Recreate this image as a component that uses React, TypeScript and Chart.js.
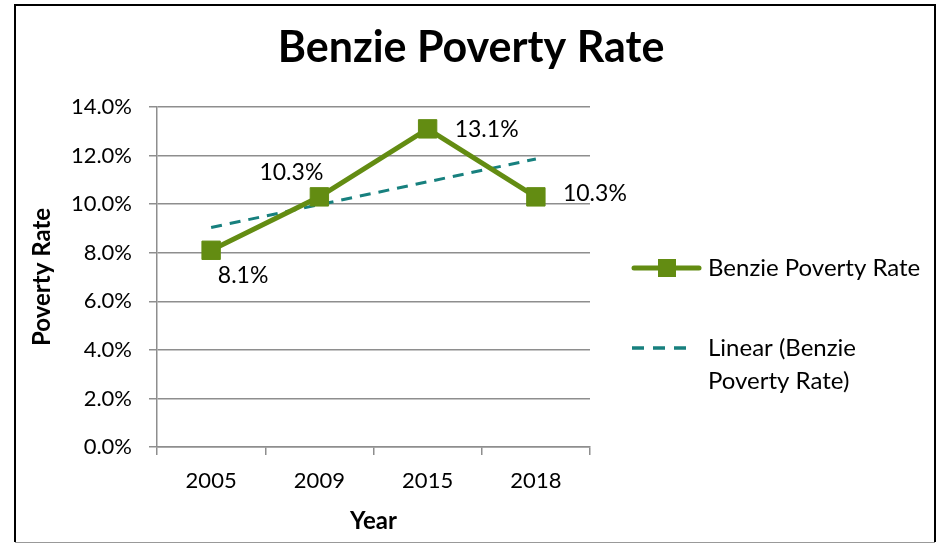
import React, { useEffect, useRef } from "react";
import { Chart, registerables } from "chart.js";

Chart.register(...registerables);

const categories = ["2005", "2009", "2015", "2018"];
const povertyRate = [8.1, 10.3, 13.1, 10.3];
const trendValues = [9.04, 9.98, 10.92, 11.86];
const dataLabels = ["8.1%", "10.3%", "13.1%", "10.3%"];
const labelOffsets = [
  [32, 25],
  [-28, -24],
  [59, 1],
  [59, -3],
];
const yTicks = { min: 0, max: 14, step: 2 };

const FONT = "Lato, 'Open Sans', sans-serif";
const GREEN = "#638C12";
const TEAL = "#17807E";
const GRID = "#8E8E8E";

const decorPlugin = {
  id: "decor",
  beforeDraw(chart: any) {
    const ctx = chart.ctx;
    ctx.save();
    ctx.fillStyle = "#ffffff";
    ctx.fillRect(0, 0, chart.width, chart.height);
    ctx.restore();
  },
  afterDraw(chart: any) {
    const ctx = chart.ctx;
    const area = chart.chartArea;
    ctx.save();
    // outer border
    ctx.strokeStyle = "#000000";
    ctx.lineWidth = 2;
    ctx.beginPath();
    ctx.moveTo(15, 542);
    ctx.lineTo(15, 5);
    ctx.lineTo(935, 5);
    ctx.lineTo(935, 542);
    ctx.stroke();
    ctx.strokeStyle = "#999999";
    ctx.lineWidth = 1;
    ctx.beginPath();
    ctx.moveTo(15, 542.5);
    ctx.lineTo(935, 542.5);
    ctx.stroke();

    // title
    ctx.fillStyle = "#000000";
    ctx.textAlign = "center";
    ctx.textBaseline = "middle";
    ctx.font = `bold 43px ${FONT}`;
    ctx.fillText("Benzie Poverty Rate", 471, 48);

    // axis titles
    ctx.font = `bold 24px ${FONT}`;
    ctx.fillText("Year", (area.left + area.right) / 2, 521);
    ctx.save();
    ctx.translate(42, (area.top + area.bottom) / 2);
    ctx.rotate(-Math.PI / 2);
    ctx.fillText("Poverty Rate", 0, 0);
    ctx.restore();

    // data labels
    ctx.font = `23px ${FONT}`;
    const meta = chart.getDatasetMeta(0);
    meta.data.forEach((pt: any, i: number) => {
      const [dx, dy] = labelOffsets[i];
      ctx.fillText(dataLabels[i], pt.x + dx, pt.y + dy);
    });

    // legend
    ctx.textAlign = "left";
    ctx.font = `24px ${FONT}`;
    const y1 = 268;
    ctx.strokeStyle = GREEN;
    ctx.lineWidth = 5;
    ctx.lineCap = "round";
    ctx.beginPath();
    ctx.moveTo(634, y1);
    ctx.lineTo(699, y1);
    ctx.stroke();
    ctx.fillStyle = GREEN;
    ctx.fillRect(658, y1 - 9, 18, 18);
    ctx.fillStyle = "#000000";
    ctx.fillText("Benzie Poverty Rate", 708, y1);

    const y2 = 348;
    ctx.strokeStyle = TEAL;
    ctx.lineWidth = 3.5;
    ctx.lineCap = "butt";
    ctx.setLineDash([12, 9]);
    ctx.beginPath();
    ctx.moveTo(632, y2);
    ctx.lineTo(690, y2);
    ctx.stroke();
    ctx.setLineDash([]);
    ctx.fillText("Linear (Benzie", 708, y2);
    ctx.fillText("Poverty Rate)", 708, y2 + 33);
    ctx.restore();
  },
};

export default function App() {
  const ref = useRef<HTMLCanvasElement | null>(null);

  useEffect(() => {
    if (!ref.current) return;
    const chart = new Chart(ref.current, {
      type: "line",
      data: {
        labels: categories,
        datasets: [
          {
            label: "Benzie Poverty Rate",
            data: povertyRate,
            borderColor: GREEN,
            backgroundColor: GREEN,
            borderWidth: 5,
            pointStyle: "rect",
            pointRadius: 13,
            pointHoverRadius: 13,
            pointBorderWidth: 1,
            pointBackgroundColor: GREEN,
            pointBorderColor: GREEN,
            tension: 0,
            order: 1,
          },
          {
            label: "Linear (Benzie Poverty Rate)",
            data: trendValues,
            borderColor: TEAL,
            borderWidth: 3,
            borderDash: [11, 8],
            pointRadius: 0,
            fill: false,
            tension: 0,
            order: 2,
          },
        ],
      },
      options: {
        responsive: false,
        animation: false,
        devicePixelRatio: 1,
        layout: { padding: { left: 27, right: 350, top: 107, bottom: 36 } },
        plugins: {
          legend: { display: false },
          title: { display: false },
          tooltip: { enabled: false },
        },
        scales: {
          x: {
            offset: true,
            afterFit: (s: any) => {
              s.height = 60;
            },
            grid: {
              offset: true,
              drawOnChartArea: false,
              drawTicks: true,
              tickLength: 8,
              color: GRID,
              lineWidth: 1.5,
            },
            border: { color: GRID, width: 1.5 },
            ticks: {
              color: "#000000",
              padding: 13,
              font: { family: FONT, size: 22 },
            },
          },
          y: {
            min: yTicks.min,
            max: yTicks.max,
            afterFit: (s: any) => {
              s.width = 130;
            },
            grid: {
              color: GRID,
              lineWidth: 1.5,
              tickLength: 8,
            },
            border: { color: GRID, width: 1.5 },
            ticks: {
              stepSize: yTicks.step,
              color: "#000000",
              padding: 17,
              font: { family: FONT, size: 22 },
              callback: (v: any) => Number(v).toFixed(1) + "%",
            },
          },
        },
      },
      plugins: [decorPlugin],
    });
    return () => chart.destroy();
  }, []);

  return (
    <div style={{ position: "absolute", left: 0, top: 0, width: 940, height: 543 }}>
      <canvas ref={ref} width={940} height={543} />
    </div>
  );
}
